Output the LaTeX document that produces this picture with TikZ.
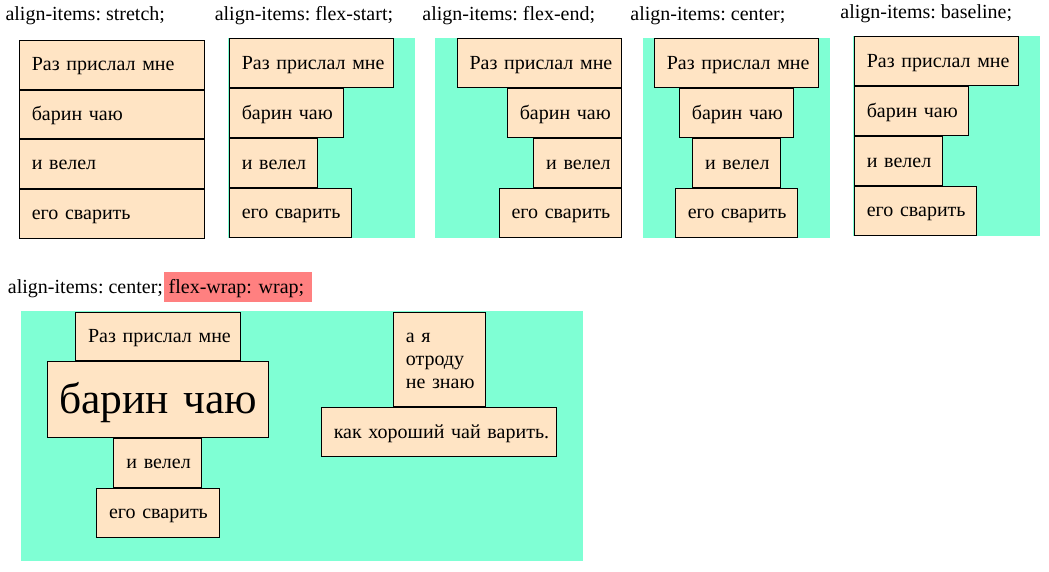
\documentclass[tikz,border=0pt]{standalone}
\usepackage{fontspec}
\setmainfont{Liberation Serif}
\frenchspacing
\definecolor{bisque}{HTML}{FFE4C4}
\definecolor{aquam}{HTML}{7FFFD4}
\definecolor{pinkbg}{HTML}{FF8080}
\newcommand\stA{\rule[-5.7pt]{0pt}{23pt}}
\newcommand\stB{\rule[-11.4pt]{0pt}{50pt}}
\newcommand\mkbox[7][]{%
  \pgfmathsetmacro\mbX{#3+0.5}\pgfmathsetmacro\mbY{#4+0.5}%
  \pgfmathsetmacro\mbW{#5-26}\pgfmathsetmacro\mbH{#6-1}%
  \node[itm,#1,text width=\mbW pt,minimum height=\mbH pt] (#2) at (\mbX,\mbY) {#7};}
\begin{document}
\frenchspacing
\begin{tikzpicture}[x=1pt,y=-1pt,
  itm/.style={draw=black,line width=1pt,fill=bisque,anchor=north west,
    inner xsep=12.5pt,inner ysep=0pt,align=left,font=\fontsize{20}{23}\selectfont\frenchspacing},
  lbl/.style={anchor=base west,inner sep=0pt,font=\fontsize{20}{23}\selectfont\frenchspacing},
  big/.style={font=\fontsize{43.5}{50}\selectfont\frenchspacing},
  bg/.style={fill=aquam}]
\useasboundingbox (0,0) rectangle (1049,572);

% labels
\node[lbl] (l1) at (5.3,20.5) {align-items: stretch;};
\node[lbl] (l2) at (214.6,20.5) {align-items: flex-start;};
\node[lbl] (l3) at (422.2,20.5) {align-items: flex-end;};
\node[lbl] (l4) at (630.2,20.5) {align-items: center;};
\node[lbl] (l5) at (840.2,18.3) {align-items: baseline;};
\node[lbl] (l6) at (7.8,293) {align-items: center;};
\node[anchor=north west,fill=pinkbg,inner xsep=4.5pt,inner ysep=0pt,text width=139pt,
  minimum height=29.7pt,align=left,font=\fontsize{20}{23}\selectfont\frenchspacing] (l7) at (164,272)
  {\mbox{\rule[-5.35pt]{0pt}{23pt}flex-wrap: wrap;}};

% backgrounds
\fill[bg] (228.3,38) rectangle (415,237.7);
\fill[bg] (435,38) rectangle (621.5,237.7);
\fill[bg] (642.7,38) rectangle (830,237.7);
\fill[bg] (853.3,36) rectangle (1040,235.7);
\fill[bg] (21,311) rectangle (583,560.7);

% stretch
\mkbox{s1}{18.3}{39.3}{186}{49.75}{\mbox{\stA Раз прислал мне}}
\mkbox{s2}{18.3}{89.05}{186}{49.75}{\mbox{\stA барин чаю}}
\mkbox{s3}{18.3}{138.8}{186}{49.75}{\mbox{\stA и велел}}
\mkbox{s4}{18.3}{188.55}{186}{49.75}{\mbox{\stA его сварить}}

% flex-start
\mkbox{a1}{228.3}{38}{165.4}{49.9}{\mbox{\stA Раз прислал мне}}
\mkbox{a2}{228.3}{87.9}{115.2}{49.9}{\mbox{\stA барин чаю}}
\mkbox{a3}{228.3}{137.8}{88.8}{49.9}{\mbox{\stA и велел}}
\mkbox{a4}{228.3}{187.7}{123.4}{49.9}{\mbox{\stA его сварить}}

% flex-end
\mkbox{b1}{456.1}{38}{165.4}{49.9}{\mbox{\stA Раз прислал мне}}
\mkbox{b2}{506.3}{87.9}{115.2}{49.9}{\mbox{\stA барин чаю}}
\mkbox{b3}{532.7}{137.8}{88.8}{49.9}{\mbox{\stA и велел}}
\mkbox{b4}{498.1}{187.7}{123.4}{49.9}{\mbox{\stA его сварить}}

% center
\mkbox{c1}{653.3}{38}{165.4}{49.9}{\mbox{\stA Раз прислал мне}}
\mkbox{c2}{678.4}{87.9}{115.2}{49.9}{\mbox{\stA барин чаю}}
\mkbox{c3}{691.6}{137.8}{88.8}{49.9}{\mbox{\stA и велел}}
\mkbox{c4}{674.3}{187.7}{123.4}{49.9}{\mbox{\stA его сварить}}

% baseline
\mkbox{d1}{853.3}{36}{165.4}{49.9}{\mbox{\stA Раз прислал мне}}
\mkbox{d2}{853.3}{85.9}{115.2}{49.9}{\mbox{\stA барин чаю}}
\mkbox{d3}{853.3}{135.8}{88.8}{49.9}{\mbox{\stA и велел}}
\mkbox{d4}{853.3}{185.7}{123.4}{49.9}{\mbox{\stA его сварить}}

% wrap
\mkbox{w1}{74.6}{311}{165.4}{49.8}{\mbox{\stA Раз прислал мне}}
\mkbox[big]{w2}{46}{360.8}{222.7}{76.4}{\mbox{\stB барин чаю}}
\mkbox{w3}{112.9}{437.2}{88.8}{50}{\mbox{\stA и велел}}
\mkbox{w4}{95.6}{487.2}{123.4}{50}{\mbox{\stA его сварить}}
\mkbox{w5}{392.3}{311}{93.4}{95.9}{\mbox{\stA а я}\\\mbox{\stA отроду}\\\mbox{\stA не знаю}}
\mkbox{w6}{320.3}{406.9}{236.4}{49.6}{\mbox{\stA как хороший чай варить.}}
\end{tikzpicture}
\end{document}
